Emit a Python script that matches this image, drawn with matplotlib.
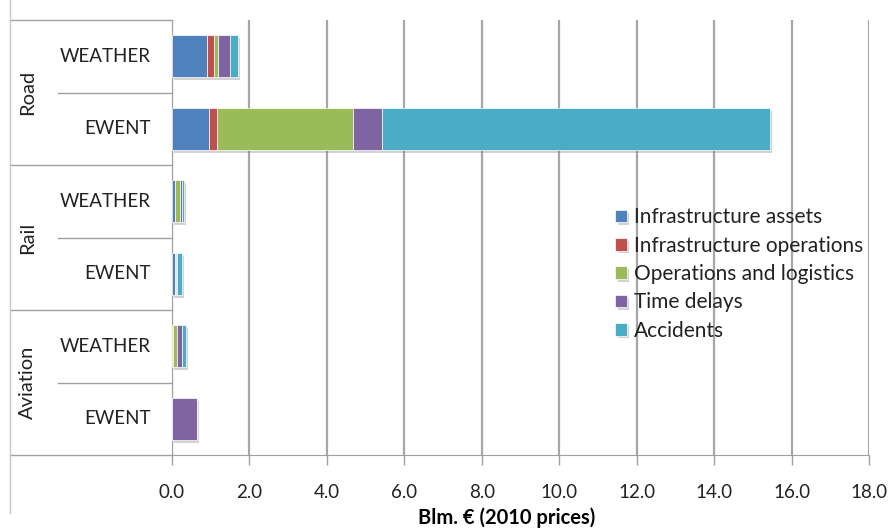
import matplotlib.pyplot as plt
import matplotlib.patheffects as pe
import matplotlib.transforms as mtransforms
import numpy as np

plt.rcParams['font.family'] = ['Lato', 'DejaVu Sans']

######### Data #########
groups = ['Road', 'Rail', 'Aviation']
rows = ['WEATHER', 'EWENT', 'WEATHER', 'EWENT', 'WEATHER', 'EWENT']

categories = ['Infrastructure assets', 'Infrastructure operations',
              'Operations and logistics', 'Time delays', 'Accidents']

# Blm. EUR per row, same order as rows
infra_assets = [0.90, 0.96, 0.07, 0.08, 0.01, 0.00]
infra_operations = [0.18, 0.20, 0.01, 0.00, 0.02, 0.00]
operations_logistics = [0.10, 3.51, 0.12, 0.02, 0.10, 0.00]
time_delays = [0.31, 0.75, 0.06, 0.02, 0.12, 0.64]
accidents = [0.21, 10.02, 0.04, 0.13, 0.10, 0.00]

colors = ['#4F81BD', '#C0504D', '#9BBB59', '#8064A2', '#4BACC6']

series = [infra_assets, infra_operations, operations_logistics, time_delays, accidents]

######### Plot #########
fig = plt.figure(figsize=(8.88, 5.30), dpi=100)
ax = fig.add_axes([172 / 888, 1 - 455 / 530, 697 / 888, 435 / 530])

y = np.arange(len(rows))
left = np.zeros(len(rows))
shadow = [pe.SimplePatchShadow(offset=(1.5, -2), shadow_rgbFace='#808080', alpha=0.35), pe.Normal()]
for vals, name, col in zip(series, categories, colors):
    vals = np.array(vals)
    bars = ax.barh(y, vals, left=left, height=0.58, color=col, label=name,
                   edgecolor='white', linewidth=0.5, zorder=3)
    for b in bars:
        b.set_path_effects(shadow)
    left += vals

ax.set_xlim(0, 18)
ax.set_ylim(5.5, -0.5)
ax.set_xticks(np.arange(0, 18.1, 2))
ax.set_xticklabels([f'{v:.1f}' for v in np.arange(0, 18.1, 2)], fontsize=13.5, color='#222222')
ax.set_yticks([])
ax.grid(axis='x', color='#A6A6A6', linewidth=1.6, zorder=0)
ax.tick_params(axis='x', length=7, width=1, color='#A0A0A0', pad=14)

for s in ['top', 'right']:
    ax.spines[s].set_visible(False)
ax.spines['left'].set_color('#A0A0A0')
ax.spines['bottom'].set_color('#A0A0A0')

ax.set_xlabel('Blm. € (2010 prices)', fontsize=14.5, fontweight='bold')
ax.xaxis.set_label_coords((507 - 172) / 697, -(518 - 455) / 435)
ax.xaxis.label.set_va('center')

# category boxes to the left of the axis
trans = mtransforms.blended_transform_factory(ax.transAxes, ax.transData)
x_out = (10 - 172) / 697
x_sub = (58 - 172) / 697
line_kw = dict(color='#A0A0A0', linewidth=1, transform=trans, clip_on=False)
for yy in [-0.5, 1.5, 3.5, 5.5]:
    ax.plot([x_out, 0], [yy, yy], **line_kw)
for yy in [0.5, 2.5, 4.5]:
    ax.plot([x_sub, 0], [yy, yy], **line_kw)
ax.plot([x_out, x_out], [-0.78, 6.3], color='#C8C8C8', linewidth=1,
        transform=trans, clip_on=False)

for yi, lab in zip(y, rows):
    ax.text(-0.031, yi, lab, transform=trans, ha='right', va='center',
            fontsize=13.5, color='#222222')
for gi, g in enumerate(groups):
    ax.text(-0.207, gi * 2 + 0.5, g, transform=trans, ha='center', va='center',
            rotation=90, fontsize=14.5, color='#222222')

ax.legend(loc='upper left', bbox_to_anchor=(605 / 888, 1 - 197 / 530),
          bbox_transform=fig.transFigure, frameon=False, fontsize=15,
          handlelength=0.55, handleheight=0.55, handletextpad=0.35,
          labelspacing=0.4, borderpad=0, labelcolor='#222222')

fig.savefig('out.png', dpi=100)
